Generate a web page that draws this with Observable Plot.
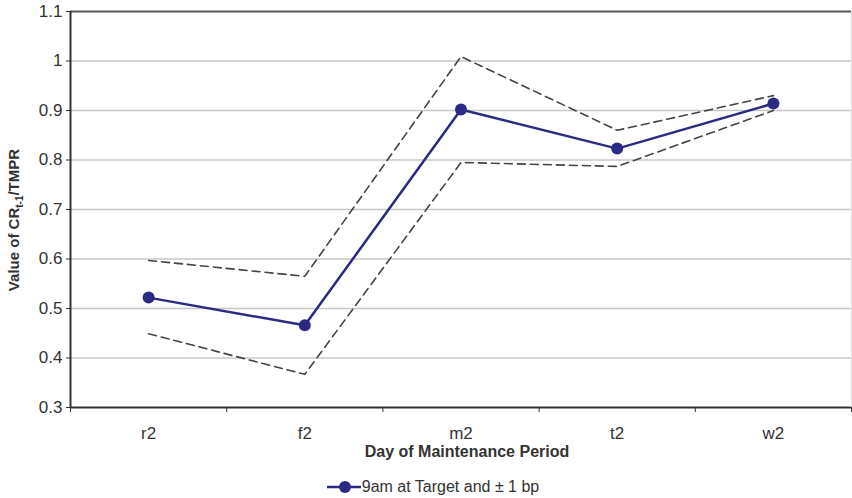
<!DOCTYPE html>
<html>
<head>
<meta charset="utf-8">
<script src="https://cdn.jsdelivr.net/npm/d3@7"></script>
<script src="https://cdn.jsdelivr.net/npm/@observablehq/plot@0.6"></script>
<style>
  body { margin: 0; background: #fff; font-family: "Liberation Sans", Arial, sans-serif; }
  #legend { display: flex; justify-content: center; align-items: center; height: 38px; font-size: 16px; color: #333; padding-left: 14px; margin-top: 8px; }
  #legend svg { margin-right: 1px; }
</style>
</head>
<body>
<div id="chart"></div>
<div id="legend"></div>
<script>
const days = ["r2", "f2", "m2", "t2", "w2"];
const target = [0.522, 0.466, 0.902, 0.823, 0.914];
const upper = [0.597, 0.565, 1.009, 0.860, 0.930];
const lower = [0.449, 0.367, 0.795, 0.787, 0.900];
const yTicks = [0.3, 0.4, 0.5, 0.6, 0.7, 0.8, 0.9, 1, 1.1];
const gridTicks = [0.4, 0.5, 0.6, 0.7, 0.8, 0.9, 1];
const seriesName = "9am at Target and ± 1 bp";

const rows = days.map((d, i) => ({day: d, x: i + 0.5, target: target[i], upper: upper[i], lower: lower[i]}));
const bounds = d3.range(days.length + 1);
const centers = days.map((d, i) => i + 0.5);

const plot = Plot.plot({
  width: 852,
  height: 460,
  marginLeft: 70,
  marginRight: 1,
  marginTop: 11,
  marginBottom: 53,
  style: {fontFamily: "Liberation Sans, Arial, sans-serif", fontSize: "16px", color: "#333", background: "#fff"},
  x: {type: "linear", domain: [0, days.length]},
  y: {domain: [0.3, 1.1]},
  marks: [
    Plot.gridY(gridTicks, {stroke: "#c8c8c8", strokeOpacity: 1, strokeWidth: 1.5}),
    Plot.ruleY([1.1], {stroke: "#555", strokeWidth: 2}),
    Plot.ruleX([days.length], {stroke: "#ddd", strokeWidth: 1}),
    Plot.axisY({ticks: yTicks, tickFormat: d => String(d), tickSize: 4, tickPadding: 4, stroke: "#333", label: null}),
    Plot.axisX({ticks: bounds, tickFormat: () => "", tickSize: 5, label: null}),
    Plot.axisX({ticks: centers, tickFormat: (d) => days[Math.round(d - 0.5)], tickSize: 0, tickPadding: 19, label: null}),
    Plot.ruleX([0], {stroke: "#333", strokeWidth: 2}),
    Plot.ruleY([0.3], {stroke: "#333", strokeWidth: 2}),
    Plot.line(rows, {x: "x", y: "upper", stroke: "#444", strokeWidth: 1.6, strokeDasharray: "8,5"}),
    Plot.line(rows, {x: "x", y: "lower", stroke: "#444", strokeWidth: 1.6, strokeDasharray: "8,5"}),
    Plot.line(rows, {x: "x", y: "target", stroke: "#2a2a85", strokeWidth: 2.5}),
    Plot.dot(rows, {x: "x", y: "target", r: 6, fill: "#2a2a85", stroke: "none"})
  ]
});
document.getElementById("chart").appendChild(plot);

const svg = d3.select(plot);
svg.selectAll('g[aria-label="y-axis tick label"], g[aria-label="x-axis tick label"]')
  .attr("font-size", 17).attr("fill", "#333");

// x-axis title
svg.append("text")
  .attr("x", 467).attr("y", 457)
  .attr("text-anchor", "middle")
  .attr("font-weight", "bold").attr("font-size", 16).attr("fill", "#333")
  .text("Day of Maintenance Period");
// y-axis title with subscript
const yt = svg.append("text")
  .attr("transform", "translate(19,220) rotate(-90)")
  .attr("text-anchor", "middle")
  .attr("font-weight", "bold").attr("font-size", 15).attr("fill", "#333");
yt.append("tspan").text("Value of CR");
yt.append("tspan").attr("font-size", 10).attr("dy", 4).text("t-1");
yt.append("tspan").attr("dy", -4).text("/TMPR");

// legend
const lg = d3.select("#legend");
const ls = lg.append("svg").attr("width", 34).attr("height", 14);
ls.append("line").attr("x1", 0).attr("x2", 34).attr("y1", 7).attr("y2", 7).attr("stroke", "#2a2a85").attr("stroke-width", 2.5);
ls.append("circle").attr("cx", 18).attr("cy", 7).attr("r", 6).attr("fill", "#2a2a85");
lg.append("span").text(seriesName);
</script>
</body>
</html>
